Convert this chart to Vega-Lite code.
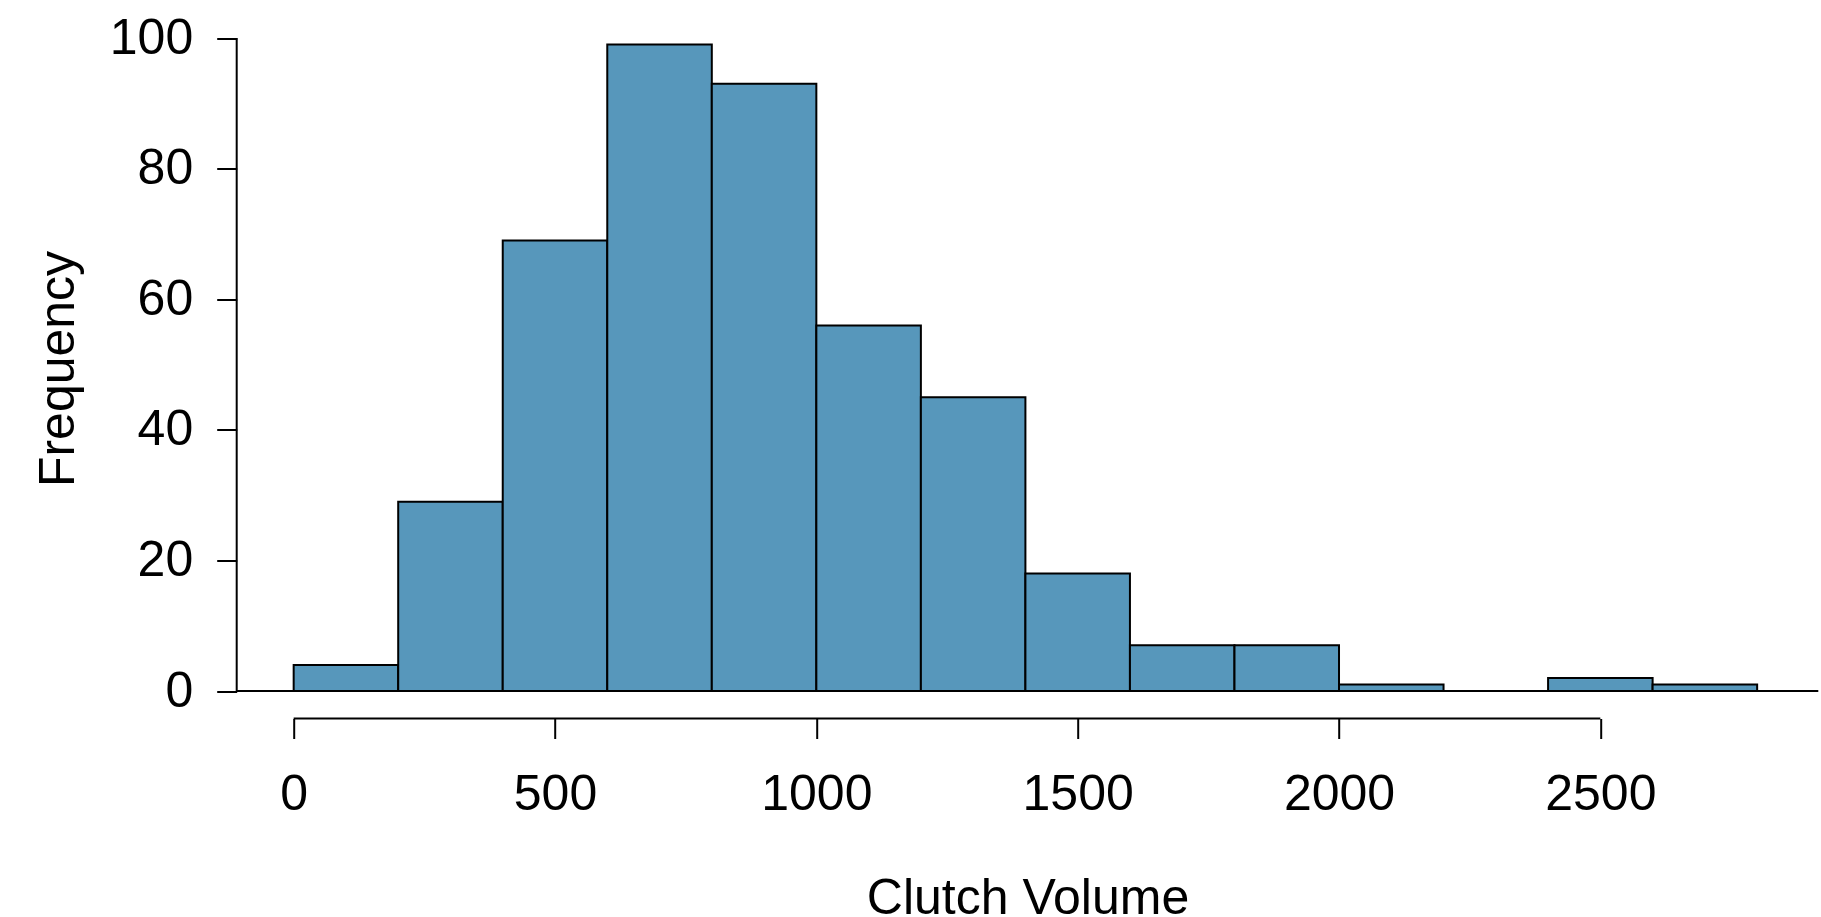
{
  "$schema": "https://vega.github.io/schema/vega-lite/v6.json",
  "width": 1581.6,
  "height": 700,
  "autosize": {"type": "none"},
  "padding": {"left": 236.7, "top": 18.5, "right": 2.7, "bottom": 198.5},
  "background": "#ffffff",
  "config": {
    "view": {"stroke": null},
    "font": "Liberation Sans",
    "axis": {"labelColor": "#000000", "titleColor": "#000000", "tickColor": "#000000", "labelFont": "Liberation Sans", "titleFont": "Liberation Sans"}
  },
  "datasets": {
    "bins": [
      {"bin_start": 0, "bin_end": 200, "count": 4},
      {"bin_start": 200, "bin_end": 400, "count": 29},
      {"bin_start": 400, "bin_end": 600, "count": 69},
      {"bin_start": 600, "bin_end": 800, "count": 99},
      {"bin_start": 800, "bin_end": 1000, "count": 93},
      {"bin_start": 1000, "bin_end": 1200, "count": 56},
      {"bin_start": 1200, "bin_end": 1400, "count": 45},
      {"bin_start": 1400, "bin_end": 1600, "count": 18},
      {"bin_start": 1600, "bin_end": 1800, "count": 7},
      {"bin_start": 1800, "bin_end": 2000, "count": 7},
      {"bin_start": 2000, "bin_end": 2200, "count": 1},
      {"bin_start": 2200, "bin_end": 2400, "count": 0},
      {"bin_start": 2400, "bin_end": 2600, "count": 2},
      {"bin_start": 2600, "bin_end": 2800, "count": 1}
    ],
    "one": [{}]
  },
  "layer": [
    {
      "data": {"name": "bins"},
      "mark": {"type": "rect", "fill": "#5797BB", "stroke": "#000000", "strokeWidth": 2},
      "encoding": {
        "x": {
          "field": "bin_start", "type": "quantitative",
          "scale": {"domain": [-109, 2917], "nice": false, "zero": false},
          "axis": {
            "values": [0, 500, 1000, 1500, 2000, 2500],
            "format": "d",
            "domain": false, "grid": false,
            "tickSize": 20, "tickWidth": 2,
            "labelFontSize": 50, "labelPadding": 31, "labelFlush": false, "labelOverlap": false,
            "title": "Clutch Volume", "titleFontSize": 50, "titleFontWeight": "normal", "titlePadding": 54
          }
        },
        "x2": {"field": "bin_end"},
        "y": {
          "field": "count", "type": "quantitative",
          "scale": {"domain": [-4.2, 103], "nice": false, "zero": false},
          "axis": {
            "values": [0, 20, 40, 60, 80, 100],
            "format": "d",
            "domain": false, "grid": false,
            "tickSize": 20, "tickWidth": 2,
            "labelFontSize": 50, "labelPadding": 24, "labelOverlap": false,
            "title": "Frequency", "titleFontSize": 50, "titleFontWeight": "normal", "titlePadding": 26
          }
        },
        "y2": {"datum": 0}
      }
    },
    {
      "data": {"name": "one"},
      "mark": {"type": "rule", "color": "#000000", "strokeWidth": 2},
      "encoding": {"y": {"datum": 0}}
    },
    {
      "data": {"name": "one"},
      "mark": {"type": "rule", "color": "#000000", "strokeWidth": 2},
      "encoding": {"x": {"datum": -109}, "y": {"datum": 0}, "y2": {"datum": 100}}
    },
    {
      "data": {"name": "one"},
      "mark": {"type": "rule", "color": "#000000", "strokeWidth": 2},
      "encoding": {"y": {"datum": -4.2}, "x": {"datum": 0}, "x2": {"datum": 2500}}
    }
  ]
}
